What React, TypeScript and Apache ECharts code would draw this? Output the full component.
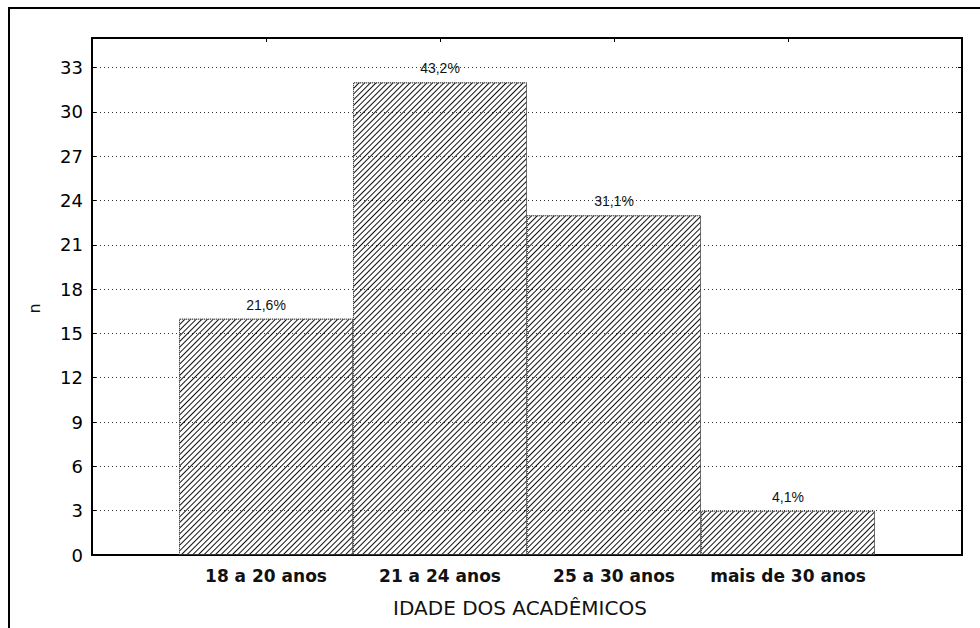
import React, { useEffect, useRef } from "react";
import * as echarts from "echarts";

const categories = ["18 a 20 anos", "21 a 24 anos", "25 a 30 anos", "mais de 30 anos"];
const counts = [16, 32, 23, 3];
const percentLabels = ["21,6%", "43,2%", "31,1%", "4,1%"];
const yTicks = { min: 0, max: 35, interval: 3 };
const xAxisTitle = "IDADE DOS ACADÊMICOS";
const yAxisTitle = "n";

export default function App() {
  const ref = useRef<HTMLDivElement>(null);

  useEffect(() => {
    if (!ref.current) return;
    const chart = echarts.init(ref.current, null, { renderer: "svg" });
    const labelFont = "DejaVu Sans";
    const option: any = {
      animation: false,
      backgroundColor: "#ffffff",
      grid: { left: 92, top: 38, right: 18, bottom: 73, containLabel: false },
      graphic: [
        {
          type: "rect",
          shape: { x: 9, y: 8, width: 990, height: 650 },
          style: { fill: "none", stroke: "#000", lineWidth: 2 },
          silent: true,
        },
      ],
      xAxis: [
        {
          type: "value",
          position: "bottom",
          min: 0,
          max: categories.length + 1,
          interval: 1,
          axisLine: { show: true, onZero: false, lineStyle: { color: "#000", width: 2 } },
          axisTick: { show: false },
          splitLine: { show: false },
          axisLabel: {
            margin: 12,
            color: "#111",
            fontFamily: labelFont,
            fontSize: 17,
            fontWeight: "bold",
            formatter: (v: number) => categories[v - 1] ?? "",
          },
          name: xAxisTitle,
          nameLocation: "middle",
          nameGap: 43,
          nameTextStyle: {
            color: "#111",
            fontFamily: labelFont,
            fontSize: 20,
            padding: [0, 14, 0, 0],
          },
        },
        {
          type: "value",
          position: "top",
          min: 0,
          max: categories.length + 1,
          interval: 1,
          axisLine: { show: true, onZero: false, lineStyle: { color: "#000", width: 2 } },
          axisTick: { show: true, inside: true, length: 4, lineStyle: { color: "#000" } },
          axisLabel: { show: false },
          splitLine: { show: false },
        },
      ],
      yAxis: [
        {
          type: "value",
          position: "left",
          min: yTicks.min,
          max: yTicks.max,
          interval: yTicks.interval,
          axisLine: { show: true, onZero: false, lineStyle: { color: "#000", width: 2 } },
          axisTick: { show: true, inside: true, length: 4, lineStyle: { color: "#000" } },
          axisLabel: {
            margin: 9,
            showMaxLabel: false,
            color: "#000",
            fontFamily: labelFont,
            fontSize: 18,
          },
          splitLine: {
            show: true,
            lineStyle: { color: "#333", width: 1, type: [1, 3] },
          },
          name: yAxisTitle,
          nameLocation: "middle",
          nameGap: 50,
          nameRotate: 90,
          nameTextStyle: {
            color: "#111",
            fontFamily: labelFont,
            fontSize: 16,
            padding: [0, 24, 0, 0],
          },
        },
        {
          type: "value",
          position: "right",
          min: yTicks.min,
          max: yTicks.max,
          interval: yTicks.interval,
          axisLine: { show: true, onZero: false, lineStyle: { color: "#000", width: 2 } },
          axisTick: { show: true, inside: true, length: 4, lineStyle: { color: "#000" } },
          axisLabel: { show: false },
          splitLine: { show: false },
        },
      ],
      series: [
        {
          type: "bar",
          xAxisIndex: 0,
          yAxisIndex: 0,
          barWidth: "100%",
          data: counts.map((c, i) => [i + 1, c]),
          itemStyle: {
            color: "rgba(255,255,255,0)",
            borderColor: "#444",
            borderWidth: 1,
            borderType: [1, 1],
            decal: {
              symbol: "rect",
              symbolSize: 1,
              dashArrayX: [1, 0],
              dashArrayY: [1, 3],
              rotation: -Math.PI / 4,
              color: "#111",
            },
          },
          label: {
            show: true,
            position: "top",
            distance: 7,
            color: "#111",
            fontFamily: "Liberation Sans",
            fontSize: 14,
            formatter: (p: any) => percentLabels[p.dataIndex],
          },
          emphasis: { disabled: true },
        },
      ],
    };
    chart.setOption(option);
    return () => chart.dispose();
  }, []);

  return (
    <div
      ref={ref}
      style={{ position: "fixed", left: 0, top: 0, width: 980, height: 628 }}
    />
  );
}
